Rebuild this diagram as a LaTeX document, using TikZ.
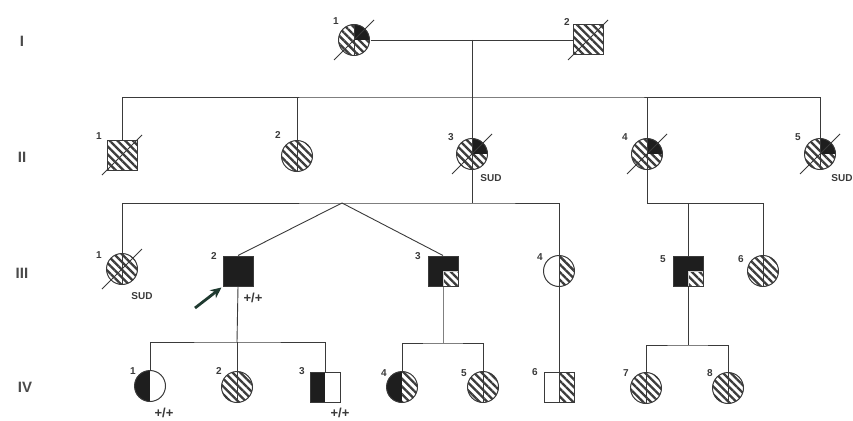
\documentclass[tikz,border=0pt]{standalone}
\usepackage{fontspec}
\setmainfont{Liberation Sans}
\usetikzlibrary{patterns.meta,arrows.meta}
\definecolor{ink}{HTML}{3A3A3A}
\definecolor{darkfill}{HTML}{1E1E1E}
\definecolor{hatchc}{HTML}{3C3C3C}
\definecolor{probc}{HTML}{1F3A30}
\definecolor{genc}{HTML}{4A4A4A}
\tikzset{
  person/.style={draw=ink, line width=1pt, inner sep=0pt, minimum size=31pt},
  fem/.style={person, circle},
  mal/.style={person, rectangle, minimum size=30pt},
  hatch/.style={pattern={Lines[angle=-45,distance=5.5pt,line width=2.3pt]}, pattern color=hatchc},
  conn/.style={draw=ink, line width=0.9pt},
  lbl/.style={font=\bfseries\fontsize{10}{10}\selectfont, text=ink, inner sep=0pt},
  genlbl/.style={font=\bfseries\fontsize{15}{15}\selectfont, text=genc, inner sep=0pt},
  note/.style={font=\bfseries\fontsize{10}{10}\selectfont, text=ink, inner sep=0pt},
  geno/.style={font=\bfseries\fontsize{13}{13}\selectfont, text=ink, inner sep=0pt},
  % symbol kinds
  hatchmid/.style={hatch, path picture={\draw[ink,line width=1pt] (path picture bounding box.north) -- (path picture bounding box.south);}},
  hatchplain/.style={hatch},
  urblack/.style={hatch, path picture={\fill[darkfill] (path picture bounding box.north) rectangle (path picture bounding box.east);
      \draw[ink,line width=1pt] (path picture bounding box.north) -- (path picture bounding box.south);}},
  blacklrhatch/.style={fill=darkfill, path picture={\fill[white] (path picture bounding box.center) rectangle (path picture bounding box.south east);
      \fill[hatch] (path picture bounding box.center) rectangle (path picture bounding box.south east);
      \draw[white!80!black,line width=0.6pt] (path picture bounding box.center) rectangle (path picture bounding box.south east);}},
  leftblack/.style={path picture={\fill[darkfill] (path picture bounding box.north west) rectangle (path picture bounding box.south);}},
  leftblackrhatch/.style={path picture={\fill[darkfill] (path picture bounding box.north west) rectangle (path picture bounding box.south);
      \fill[hatch] (path picture bounding box.north) rectangle (path picture bounding box.south east);}},
  righthatch/.style={path picture={\fill[hatch] (path picture bounding box.north) rectangle (path picture bounding box.south east);
      \draw[ink,line width=1pt] (path picture bounding box.north) -- (path picture bounding box.south);}},
}
\newcommand\deadmark[1]{\draw[ink,line width=1pt] ([shift={(-20,20)}]#1.center) -- ([shift={(20,-20)}]#1.center);}
\begin{document}
\begin{tikzpicture}[x=1pt,y=-1pt]
\useasboundingbox (0,0) rectangle (853,420);
% generation labels
\node[genlbl] (gI) at (22,41) {I};
\node[genlbl] (gII) at (22,157) {II};
\node[genlbl] (gIII) at (22,273) {III};
\node[genlbl] (gIV) at (25,387) {IV};

% Generation I
\node[fem, urblack] (I1) at (354,40) {};
\node[mal, hatchplain] (I2) at (588,40) {};
\deadmark{I1}
\deadmark{I2}
\node[lbl] (I1n) at (336,21) {1};
\node[lbl] (I2n) at (567,22) {2};

% Generation II
\node[mal, hatchplain] (II1) at (122,155) {};
\node[fem, hatchmid] (II2) at (297,156) {};
\node[fem, urblack] (II3) at (472,154) {};
\node[fem, urblack] (II4) at (647,154) {};
\node[fem, urblack] (II5) at (820,154) {};
\deadmark{II1}
\deadmark{II3}
\deadmark{II4}
\deadmark{II5}
\node[lbl] (II1n) at (99,136) {1};
\node[lbl] (II2n) at (278,135) {2};
\node[lbl] (II3n) at (451,137) {3};
\node[lbl] (II4n) at (625,137) {4};
\node[lbl] (II5n) at (798,137) {5};
\node[note] (II3s) at (491,178) {SUD};
\node[note] (II5s) at (842,178) {SUD};

% Generation III
\node[fem, hatchmid] (III1) at (122,269) {};
\node[mal, fill=darkfill] (III2) at (238,271) {};
\node[mal, blacklrhatch] (III3) at (443,271) {};
\node[fem, righthatch] (III4) at (559,271) {};
\node[mal, blacklrhatch] (III5) at (688,271) {};
\node[fem, hatchmid] (III6) at (763,271) {};
\deadmark{III1}
\node[lbl] (III1n) at (99,255) {1};
\node[lbl] (III2n) at (214,256) {2};
\node[lbl] (III3n) at (418,256) {3};
\node[lbl] (III4n) at (540,257) {4};
\node[lbl] (III5n) at (663,259) {5};
\node[lbl] (III6n) at (741,259) {6};
\node[note] (III1s) at (142,296) {SUD};
\node[geno] (III2g) at (253,298) {+/+};

% Generation IV
\node[fem, leftblack] (IV1) at (150,386) {};
\node[fem, hatchmid] (IV2) at (237,387) {};
\node[mal, leftblack] (IV3) at (325,387) {};
\node[fem, leftblackrhatch] (IV4) at (402,387) {};
\node[fem, hatchmid] (IV5) at (483,387) {};
\node[mal, righthatch] (IV6) at (559,387) {};
\node[fem, hatchmid] (IV7) at (646,388) {};
\node[fem, hatchmid] (IV8) at (728,388) {};
\node[lbl] (IV1n) at (133,371) {1};
\node[lbl] (IV2n) at (219,371) {2};
\node[lbl] (IV3n) at (302,371) {3};
\node[lbl] (IV4n) at (384,373) {4};
\node[lbl] (IV5n) at (464,373) {5};
\node[lbl] (IV6n) at (535,372) {6};
\node[lbl] (IV7n) at (626,373) {7};
\node[lbl] (IV8n) at (710,373) {8};
\node[geno] (IV1g) at (164,413) {+/+};
\node[geno] (IV3g) at (340,413) {+/+};

% coordinates for lines
\coordinate (m1) at (472,40);
\coordinate (s2) at (472,97);
\coordinate (s3) at (472,203);
\coordinate (tw) at (342,203);
\coordinate (s3b) at (647,203);
\coordinate (s4a) at (237,342);
\coordinate (s4b) at (443,343);
\coordinate (s4c) at (688,345);
\coordinate (pa) at (195,308);

% connectors
\draw[conn] (I1) -- (I2);
\draw[conn] (m1) -- (s2);
\draw[conn] (II1.north) |- (s2) -| (II5.north);
\draw[conn] (II2.north) -- (II2.north |- s2);
\draw[conn] (II3.north) -- (II3.north |- s2);
\draw[conn] (II4.north) -- (II4.north |- s2);

\draw[conn] (II3.south) -- (s3);
\draw[conn] (III1.north) |- (s3) -| (III4.north);
\draw[conn] (III2.north) -- (tw) -- (III3.north);
\draw[conn] (II4.south) -- (s3b) -| (III6.north);
\draw[conn] (III5.north) -- (III5.north |- s3b);

\draw[conn] (III2.south) -- (s4a);
\draw[conn] (IV1.north) |- (s4a) -| (IV3.north);
\draw[conn] (IV2.north) -- (IV2.north |- s4a);
\draw[draw=gray, line width=0.6pt] (III3.south) -- (s4b);
\draw[conn] (IV4.north) |- (s4b) -| (IV5.north);
\draw[conn] (III4.south) -- (IV6.north);
\draw[conn] (III5.south) -- (s4c);
\draw[conn] (IV7.north) |- (s4c) -| (IV8.north);

% proband arrow
\draw[probc, line width=2.8pt, -{Stealth[length=11pt,width=10pt]}] (pa) -- ([shift={(-1,1)}]III2.south west);
\end{tikzpicture}
\end{document}
